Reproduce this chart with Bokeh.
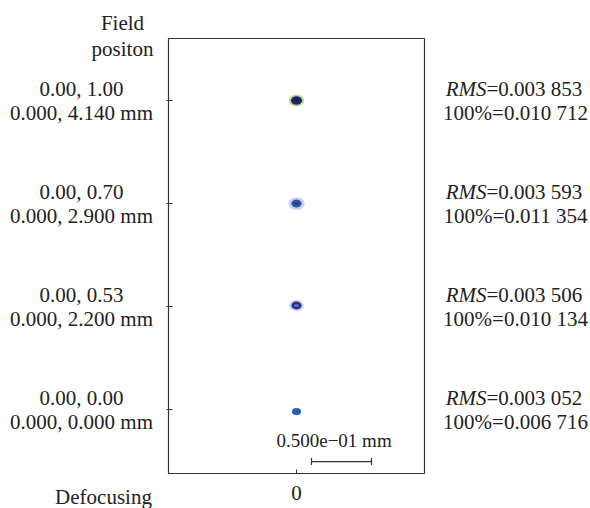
from bokeh.plotting import figure
from bokeh.layouts import row, column
from bokeh.models import Range1d, FixedTicker
from bokeh.core.properties import value
from bokeh.embed import file_html
from bokeh.resources import INLINE

# ---- data ----
field_rel = ["0.00, 0.00", "0.00, 0.53", "0.00, 0.70", "0.00, 1.00"]
field_mm = ["0.000, 0.000 mm", "0.000, 2.200 mm", "0.000, 2.900 mm", "0.000, 4.140 mm"]
rms_text = ["0.003 052", "0.003 506", "0.003 593", "0.003 853"]
pct_text = ["0.006 716", "0.010 134", "0.011 354", "0.010 712"]
rms_vals = [0.003052, 0.003506, 0.003593, 0.003853]        # mm
pct_vals = [0.006716, 0.010134, 0.011354, 0.010712]        # mm
row_idx = [0, 1, 2, 3]
spot_x = [0.0, 0.0, 0.0, 0.0]                              # mm (defocus 0)
spot_dy = [-0.02, 0.01, 0.0, 0.0]
defocus_ticks = [0]
defocus_labels = ["0"]
scale_len = 0.05                                           # mm
scale_start = 0.0125
scale_text = "0.500e\u221201 mm"

outer_colors = ["#7f9fd8", "#c3cbef", "#c4cdef", "#b4d870"]
core_colors = ["#2a5ba7", "#28307f", "#3356a3", "#1e2571"]
inner_colors = ["#2f62ae", "#5a70c0", "#27387f", "#1a1f66"]

FONT = value("Liberation Serif")
FS = value("21px")
TXT = "#222222"
H = 508
ROW_PX = 103.0

# ---------------- middle: spot diagram ----------------
x_start, x_end = -0.10667, 0.10667
frame_w, frame_h = 256, 435
px_per_mm = frame_w / (x_end - x_start)
y0, y1 = -0.621, 3.602

p = figure(output_backend="svg", toolbar_location=None,
           frame_width=frame_w, frame_height=frame_h,
           min_border_left=10, min_border_right=10,
           min_border_top=38, min_border_bottom=35,
           x_range=Range1d(x_start, x_end), y_range=Range1d(y0, y1))
p.grid.visible = False
p.outline_line_color = "#333333"
p.outline_line_width = 1.2

p.yaxis.ticker = FixedTicker(ticks=row_idx)
p.yaxis.major_label_overrides = {r: "" for r in row_idx}
p.yaxis.major_label_standoff = 0
p.yaxis.axis_line_color = None
p.yaxis.major_tick_in = 4
p.yaxis.major_tick_out = 2
p.yaxis.major_tick_line_color = "#333333"
p.yaxis.minor_tick_line_color = None

p.xaxis.ticker = FixedTicker(ticks=defocus_ticks)
p.xaxis.major_label_overrides = dict(zip(defocus_ticks, defocus_labels))
p.xaxis.axis_line_color = None
p.xaxis.major_tick_in = 4
p.xaxis.major_tick_out = 0
p.xaxis.major_tick_line_color = "#333333"
p.xaxis.minor_tick_line_color = None
p.xaxis.major_label_standoff = 12
p.xaxis.major_label_text_font = "Liberation Serif"
p.xaxis.major_label_text_font_size = "21px"
p.xaxis.major_label_text_color = TXT

SPOT_SCALE = 1.2
outer_w = [v * SPOT_SCALE for v in pct_vals]
outer_h = [w * px_per_mm * 0.78 for w in outer_w]
core_w = [2 * v * SPOT_SCALE for v in rms_vals]
core_h = [w * px_per_mm * 0.78 for w in core_w]
inner_w = [v * SPOT_SCALE for v in rms_vals]
inner_h = [w * px_per_mm * 0.6 for w in inner_w]
sy = [r + d for r, d in zip(row_idx, spot_dy)]
p.ellipse(x=spot_x, y=sy, width=outer_w, height=outer_h, height_units="screen",
          fill_color=outer_colors, fill_alpha=0.9, line_color=None)
p.ellipse(x=spot_x, y=sy, width=core_w, height=core_h, height_units="screen",
          fill_color=core_colors, line_color=None)
p.ellipse(x=spot_x, y=sy, width=inner_w, height=inner_h, height_units="screen",
          fill_color=inner_colors, line_color=None)

sb_y = -0.505
p.segment(x0=[scale_start], y0=[sb_y], x1=[scale_start + scale_len], y1=[sb_y],
          line_color="#333333", line_width=1.2)
p.scatter(x=[scale_start, scale_start + scale_len], y=[sb_y, sb_y], marker="dash",
          angle=1.5708, size=7, line_color="#333333", line_width=1.2)
p.text(x=[scale_start + scale_len / 2 - 0.0062], y=[-0.30], text=[scale_text],
       text_font=FONT, text_font_size=value("19px"), text_align="center",
       text_baseline="middle", text_color=TXT)

# ---------------- side panels ----------------
top_y = y1 + 38 / ROW_PX
bot_y = top_y - H / ROW_PX
dy = 12.0 / ROW_PX

def panel(w):
    f = figure(output_backend="svg", toolbar_location=None, width=w, height=H,
               min_border=0, x_range=Range1d(0, w), y_range=Range1d(bot_y, top_y))
    f.axis.visible = False
    f.grid.visible = False
    f.outline_line_color = None
    return f

left_w = 158
lp = panel(left_w)
lx = [81] * 4
lp.text(x=lx, y=[r + dy for r in row_idx], text=field_rel, text_font=FONT, text_font_size=FS,
        text_align="center", text_baseline="middle", text_color=TXT)
lp.text(x=lx, y=[r - dy for r in row_idx], text=field_mm, text_font=FONT, text_font_size=FS,
        text_align="center", text_baseline="middle", text_color=TXT)
lp.text(x=[122, 122], y=[3.757, 3.50], text=["Field", "positon"], text_font=FONT,
        text_font_size=FS, text_align="center", text_baseline="middle", text_color=TXT)
lp.text(x=[103], y=[top_y - 496 / ROW_PX], text=["Defocusing"], text_font=FONT,
        text_font_size=FS, text_align="center", text_baseline="middle", text_color=TXT)

right_w = 156
rp = panel(right_w)
split = [52] * 4
rp.text(x=split, y=[r + dy for r in row_idx], text=["RMS"] * 4, text_font=FONT,
        text_font_size=FS, text_font_style="italic", text_align="right",
        text_baseline="middle", text_color=TXT)
rp.text(x=split, y=[r + dy for r in row_idx], text=["=" + t for t in rms_text], text_font=FONT,
        text_font_size=FS, text_align="left", text_baseline="middle", text_color=TXT)
rp.text(x=[81] * 4, y=[r - dy for r in row_idx], text=["100%=" + t for t in pct_text],
        text_font=FONT, text_font_size=FS, text_align="center", text_baseline="middle",
        text_color=TXT)

layout = row(column(lp), p, column(rp), spacing=0)
open("out.html", "w").write(file_html(layout, INLINE))
